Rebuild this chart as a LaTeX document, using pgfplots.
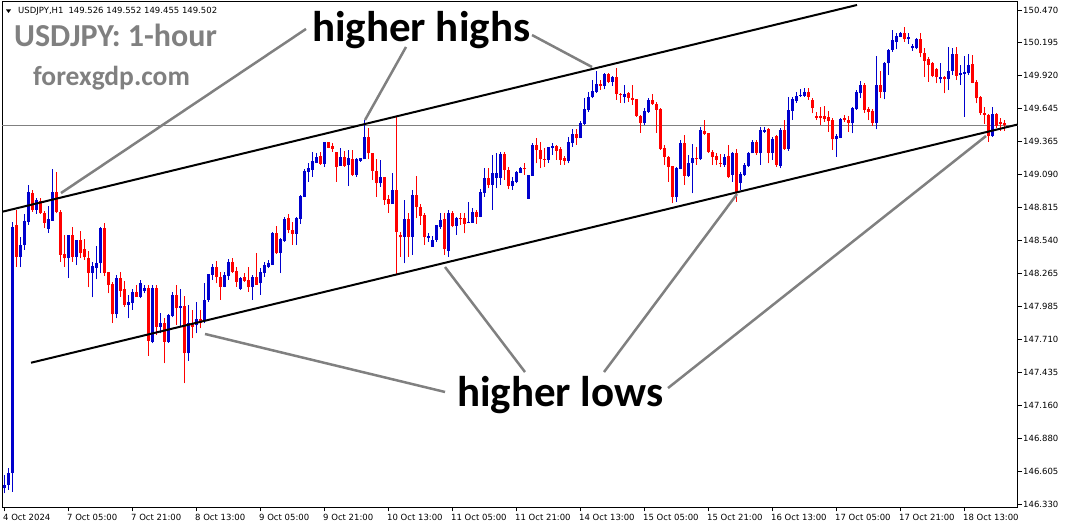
\documentclass[border=0pt]{standalone}
\usepackage{fontspec}
\setmainfont{DejaVu Sans}
\newfontfamily\calibri{Carlito}
\usepackage{pgfplots}
\pgfplotsset{compat=1.18}
\usepackage{pgfplotstable}
\definecolor{bull}{RGB}{0,0,205}
\definecolor{bear}{RGB}{255,0,0}
\definecolor{pointer}{RGB}{128,128,128}
\definecolor{pricegray}{RGB}{128,128,128}
\pgfplotstableread{
x o h l c
0 146.462 146.574 146.420 146.490
1 146.490 146.630 146.448 146.588
2 146.588 148.697 146.434 148.655
3 148.669 148.794 148.319 148.403
4 148.403 148.565 148.314 148.501
5 148.501 148.761 148.459 148.702
6 148.697 149.004 148.669 148.948
7 148.934 148.962 148.780 148.794
8 148.794 148.892 148.761 148.878
9 148.872 148.892 148.761 148.766
10 148.772 148.786 148.641 148.688
11 148.635 148.828 148.604 148.716
12 148.705 149.138 148.705 148.948
13 148.942 149.110 148.766 148.780
14 148.780 148.794 148.361 148.417
15 148.426 148.585 148.319 148.389
16 148.389 148.585 148.222 148.585
17 148.585 148.649 148.361 148.403
18 148.403 148.543 148.333 148.543
19 148.543 148.621 148.389 148.431
20 148.467 148.548 148.375 148.398
21 148.395 148.451 148.146 148.269
22 148.269 148.361 148.062 148.325
23 148.311 148.493 148.213 148.347
24 148.347 148.655 148.264 148.646
25 148.641 148.683 148.241 148.269
26 148.272 148.272 148.096 148.166
27 148.174 148.194 147.845 147.920
28 147.920 148.250 147.886 148.222
29 148.222 148.278 148.068 148.118
30 148.132 148.199 147.984 147.998
31 147.998 148.082 147.886 148.021
32 148.018 148.129 147.956 148.104
33 148.104 148.163 148.068 148.068
34 148.068 148.208 148.054 148.180
35 148.118 148.166 148.096 148.143
36 148.143 148.166 147.571 147.699
37 147.688 148.166 147.677 148.143
38 148.143 148.166 147.747 147.817
39 147.817 147.934 147.761 147.847
40 147.847 147.886 147.509 147.691
41 147.691 147.920 147.683 147.914
42 147.906 148.110 147.895 148.082
43 148.082 148.166 147.831 147.970
44 147.976 148.129 147.817 147.993
45 147.993 148.074 147.342 147.593
46 147.593 147.998 147.532 147.845
47 147.845 147.956 147.719 147.817
48 147.831 148.026 147.761 147.878
49 147.878 147.956 147.803 147.845
50 147.867 148.180 147.845 148.040
51 148.040 148.258 148.026 148.258
52 148.250 148.342 148.208 148.314
53 148.314 148.367 148.180 148.230
54 148.236 148.278 148.040 148.152
55 148.152 148.278 148.146 148.250
56 148.241 148.381 148.208 148.358
57 148.358 148.389 148.269 148.278
58 148.280 148.319 148.152 148.194
59 148.129 148.236 148.124 148.227
60 148.230 148.264 148.194 148.202
61 148.208 148.314 148.110 148.146
62 148.146 148.250 148.040 148.236
63 148.230 148.431 148.166 148.166
64 148.180 148.306 148.082 148.278
65 148.264 148.361 148.236 148.333
66 148.320 148.375 148.306 148.347
67 148.333 148.613 148.333 148.604
68 148.604 148.660 148.426 148.431
69 148.437 148.557 148.264 148.551
70 148.537 148.738 148.529 148.719
71 148.724 148.761 148.599 148.627
72 148.627 148.697 148.501 148.593
73 148.593 148.738 148.501 148.730
74 148.719 148.920 148.677 148.912
75 148.906 149.135 148.906 149.124
76 149.116 149.185 149.032 149.149
77 149.129 149.283 149.074 149.205
78 149.191 149.269 149.185 149.241
79 149.247 149.283 149.171 149.180
80 149.180 149.367 149.157 149.361
81 149.361 149.367 149.311 149.317
82 149.331 149.358 149.283 149.305
83 149.283 149.283 149.032 149.157
84 149.166 149.311 149.163 149.241
85 149.241 149.291 149.157 149.166
86 149.169 149.297 148.995 149.227
87 149.219 149.297 149.079 149.088
88 149.088 149.227 149.074 149.219
89 149.208 149.227 149.199 149.227
90 149.219 149.548 149.219 149.409
91 149.409 149.479 149.219 149.269
92 149.269 149.275 149.046 149.124
93 149.124 149.219 148.906 149.018
94 149.018 149.213 148.990 149.074
95 149.074 149.074 148.836 148.878
96 148.884 148.920 148.772 148.845
97 148.845 149.102 148.845 148.962
98 148.962 149.582 148.250 148.613
99 148.585 148.613 148.403 148.565
100 148.571 148.878 148.347 148.719
101 148.719 148.766 148.403 148.571
102 148.571 148.962 148.417 148.920
103 148.920 149.079 148.724 148.817
104 148.822 148.845 148.669 148.747
105 148.752 148.766 148.501 148.565
106 148.557 148.604 148.529 148.576
107 148.487 148.576 148.487 148.543
108 148.543 148.669 148.529 148.669
109 148.649 148.766 148.635 148.711
110 148.716 148.766 148.417 148.465
111 148.454 148.794 148.403 148.766
112 148.766 148.789 148.649 148.663
113 148.663 148.738 148.585 148.724
114 148.724 148.766 148.669 148.716
115 148.724 148.766 148.599 148.677
116 148.688 148.864 148.683 148.697
117 148.688 148.808 148.683 148.775
118 148.775 148.794 148.677 148.738
119 148.738 148.967 148.733 148.948
120 148.940 149.143 148.906 149.065
121 149.065 149.143 148.976 149.004
122 149.004 149.255 148.794 149.102
123 149.060 149.269 148.976 149.107
124 149.065 149.283 149.004 149.264
125 149.264 149.283 149.046 149.129
126 149.129 149.157 148.967 148.995
127 148.995 149.074 148.962 149.040
128 149.032 149.124 149.018 149.116
129 149.107 149.157 149.102 149.149
130 149.149 149.185 149.088 149.135
131 148.887 149.088 148.884 149.088
132 149.079 149.353 149.079 149.339
133 149.339 149.395 149.185 149.297
134 149.297 149.367 149.143 149.219
135 149.222 149.311 149.157 149.213
136 149.213 149.325 149.191 149.319
137 149.317 149.353 149.255 149.331
138 149.331 149.339 149.213 149.292
139 149.303 149.325 149.171 149.213
140 149.233 149.247 149.171 149.208
141 149.208 149.403 149.185 149.367
142 149.359 149.470 149.325 149.431
143 149.431 149.470 149.339 149.395
144 149.395 149.543 149.395 149.526
145 149.515 149.730 149.507 149.638
146 149.632 149.786 149.618 149.738
147 149.738 149.884 149.730 149.794
148 149.783 149.962 149.777 149.847
149 149.847 149.884 149.800 149.833
150 149.833 149.939 149.805 149.934
151 149.934 149.939 149.856 149.870
152 149.870 149.917 149.833 149.912
153 149.912 149.981 149.716 149.764
154 149.766 149.777 149.694 149.758
155 149.744 149.842 149.688 149.766
156 149.777 149.786 149.702 149.730
157 149.730 149.842 149.674 149.716
158 149.722 149.722 149.576 149.582
159 149.582 149.590 149.442 149.521
160 149.521 149.646 149.507 149.624
161 149.618 149.730 149.610 149.716
162 149.716 149.766 149.674 149.683
163 149.683 149.702 149.442 149.632
164 149.638 149.646 149.297 149.303
165 149.311 149.339 149.171 149.236
166 149.241 149.247 149.032 149.158
167 149.163 149.163 148.850 148.906
168 148.906 149.157 148.864 149.143
169 149.138 149.381 149.135 149.359
170 149.353 149.423 149.004 149.079
171 149.079 149.255 149.074 149.191
172 149.186 149.348 148.934 149.227
173 149.227 149.325 149.171 149.219
174 149.219 149.487 149.213 149.465
175 149.456 149.548 149.423 149.431
176 149.437 149.442 149.275 149.283
177 149.283 149.297 149.171 149.241
178 149.247 149.269 149.171 149.213
179 149.185 149.264 149.152 149.180
180 149.171 149.264 149.157 149.236
181 149.247 149.339 149.060 149.074
182 149.088 149.283 149.032 149.275
183 149.275 149.303 148.864 148.948
184 149.023 149.116 148.962 149.096
185 149.088 149.185 149.079 149.171
186 149.166 149.283 149.157 149.269
187 149.269 149.381 149.269 149.367
188 149.367 149.381 149.255 149.269
189 149.269 149.487 149.171 149.465
190 149.451 149.493 149.442 149.465
191 149.470 149.479 149.185 149.275
192 149.275 149.403 149.213 149.386
193 149.414 149.423 149.157 149.171
194 149.163 149.479 149.143 149.465
195 149.465 149.548 149.297 149.305
196 149.303 149.744 149.292 149.632
197 149.627 149.744 149.548 149.722
198 149.710 149.786 149.694 149.750
199 149.750 149.805 149.744 149.758
200 149.750 149.814 149.744 149.786
201 149.786 149.814 149.716 149.744
202 149.716 149.730 149.604 149.646
203 149.582 149.618 149.548 149.568
204 149.582 149.660 149.507 149.562
205 149.582 149.666 149.535 149.554
206 149.576 149.627 149.451 149.540
207 149.548 149.562 149.297 149.386
208 149.386 149.431 149.241 149.414
209 149.400 149.562 149.395 149.557
210 149.562 149.590 149.535 149.548
211 149.548 149.582 149.451 149.521
212 149.520 149.654 149.436 149.646
213 149.637 149.799 149.632 149.786
214 149.772 149.875 149.730 149.841
215 149.841 149.855 149.610 149.632
216 149.637 149.654 149.548 149.618
217 149.626 149.637 149.498 149.520
218 149.520 150.084 149.470 149.841
219 149.841 149.961 149.730 149.786
220 149.786 150.037 149.721 150.023
221 150.023 150.140 149.925 150.135
222 150.135 150.302 150.121 150.218
223 150.204 150.280 150.140 150.255
224 150.246 150.288 150.241 150.280
225 150.280 150.330 150.204 150.224
226 150.224 150.274 150.185 150.241
227 150.149 150.185 150.129 150.168
228 150.149 150.232 150.140 150.224
229 150.224 150.280 150.073 150.107
230 150.112 150.149 149.911 150.045
231 150.056 150.073 149.869 150.009
232 150.023 150.037 149.906 149.917
233 149.973 149.981 149.855 149.906
234 149.889 150.023 149.855 149.906
235 149.906 149.917 149.772 149.889
236 149.889 150.157 149.799 149.961
237 149.961 150.149 149.925 150.101
238 150.101 150.163 149.883 149.917
239 149.925 150.009 149.841 149.945
240 149.934 150.084 149.576 149.953
241 149.939 150.101 149.925 150.009
242 150.015 150.093 149.855 149.861
243 149.869 149.883 149.688 149.730
244 149.744 149.749 149.590 149.604
245 149.610 149.654 149.515 149.590
246 149.590 149.598 149.367 149.414
247 149.414 149.654 149.408 149.598
248 149.598 149.604 149.478 149.498
249 149.534 149.562 149.459 149.515
250 149.526 149.552 149.455 149.502
}\candles
\begin{document}
\begin{tikzpicture}[x=1bp,y=1bp]
\useasboundingbox (0,0) rectangle (1065,528);
\begin{axis}[
  at={(2bp,20.5bp)}, anchor=south west,
  width=1015.5bp, height=505.5bp, scale only axis,
  xmin=-0.5, xmax=253.375, ymin=146.301, ymax=150.537,
  axis line style={black, line width=1bp},
  xtick pos=bottom, ytick pos=right,
  tick align=outside, major tick length=4bp,
  tick style={black, line width=0.8bp},
  xtick={0,16,...,240},
  xticklabels={4 Oct 2024, 7 Oct 05:00, 7 Oct 21:00, 8 Oct 13:00, 9 Oct 05:00, 9 Oct 21:00, 10 Oct 13:00, 11 Oct 05:00, 11 Oct 21:00, 14 Oct 13:00, 15 Oct 05:00, 15 Oct 21:00, 16 Oct 13:00, 17 Oct 05:00, 17 Oct 21:00, 18 Oct 13:00},
  ytick={146.330,146.605,146.880,147.160,147.435,147.710,147.985,148.265,148.540,148.815,149.090,149.365,149.645,149.920,150.195,150.470},
  yticklabels={146.330,146.605,146.880,147.160,147.435,147.710,147.985,148.265,148.540,148.815,149.090,149.365,149.645,149.920,150.195,150.470},
  tick label style={font=\fontsize{8.5bp}{10bp}\selectfont, inner sep=0pt},
  xticklabel style={anchor=north west, xshift=-1bp, yshift=-3bp},
  yticklabel style={anchor=west, xshift=1.5bp},
  unbounded coords=discard,
  candle/.style={draw=none, mark=none, forget plot,
    error bars/y dir=plus, error bars/y explicit, error bars/error mark=none},
]
% current price line
\addplot[pricegray, line width=0.8bp] coordinates {(-0.5,149.502) (253.375,149.502)};
% wicks
\addplot[candle, restrict expr to domain={\thisrow{c}-\thisrow{o}}{0:100},
  error bars/error bar style={draw=bull, solid, line width=1bp}]
  table[x=x, y=l, y error plus expr={\thisrow{h}-\thisrow{l}}] {\candles};
\addplot[candle, restrict expr to domain={\thisrow{c}-\thisrow{o}}{-100:-0.0005},
  error bars/error bar style={draw=bear, solid, line width=1bp}]
  table[x=x, y=l, y error plus expr={\thisrow{h}-\thisrow{l}}] {\candles};
% bodies
\addplot[candle, restrict expr to domain={\thisrow{c}-\thisrow{o}}{0:100},
  error bars/error bar style={draw=bull, solid, line width=3bp}]
  table[x=x, y expr={min(\thisrow{o},\thisrow{c})}, y error plus expr={max(abs(\thisrow{c}-\thisrow{o}),0.009)}] {\candles};
\addplot[candle, restrict expr to domain={\thisrow{c}-\thisrow{o}}{-100:-0.0005},
  error bars/error bar style={draw=bear, solid, line width=3bp}]
  table[x=x, y expr={min(\thisrow{o},\thisrow{c})}, y error plus expr={max(abs(\thisrow{c}-\thisrow{o}),0.009)}] {\candles};
% channel lines
\addplot[black, line width=2bp] coordinates {(-0.33,148.780) (213.25,150.512)};
\addplot[black, line width=2bp] coordinates {(6.75,147.514) (253.375,149.510)};
% pointers
\addplot[pointer, line width=2.5bp] coordinates {(14.25,148.936) (75.5,150.311)};
\addplot[pointer, line width=2.5bp] coordinates {(90.25,149.548) (100.5,150.160)};
\addplot[pointer, line width=2.5bp] coordinates {(132,150.260) (147,149.992)};
\addplot[pointer, line width=2.5bp] coordinates {(50.25,147.755) (110.25,147.269)};
\addplot[pointer, line width=2.5bp] coordinates {(110.25,148.316) (130.25,147.436)};
\addplot[pointer, line width=2.5bp] coordinates {(183.25,148.928) (150,147.436)};
\addplot[pointer, line width=2.5bp] coordinates {(245.5,149.414) (166,147.302)};
\node[fill=black, text=white, anchor=west, inner sep=0pt, minimum width=44bp, minimum height=14bp,
  font=\fontsize{8.5bp}{10bp}\selectfont] at (axis cs:253.375,149.502) {149.502};
\end{axis}
\fill (6,518.5) -- (11,518.5) -- (8.5,515) -- cycle;
\node[anchor=base west, inner sep=0pt, font=\fontsize{8.5bp}{10bp}\selectfont] at (18,514) {USDJPY,H1\hspace{5bp}149.526 149.552 149.455 149.502};
\node[anchor=base west, inner sep=0pt, text=pointer, font=\calibri\bfseries\fontsize{32bp}{36bp}\selectfont] at (14,481.3) {USDJPY: 1-hour};
\node[anchor=base west, inner sep=0pt, text=pointer, font=\calibri\bfseries\fontsize{27.5bp}{32bp}\selectfont] at (33,442) {forexgdp.com};
\node[anchor=base west, inner sep=0pt, font=\calibri\bfseries\fontsize{43bp}{48bp}\selectfont] at (312,486.3) {higher highs};
\node[anchor=base west, inner sep=0pt, font=\calibri\bfseries\fontsize{43bp}{48bp}\selectfont] at (457,121.5) {higher lows};
\end{tikzpicture}
\end{document}
